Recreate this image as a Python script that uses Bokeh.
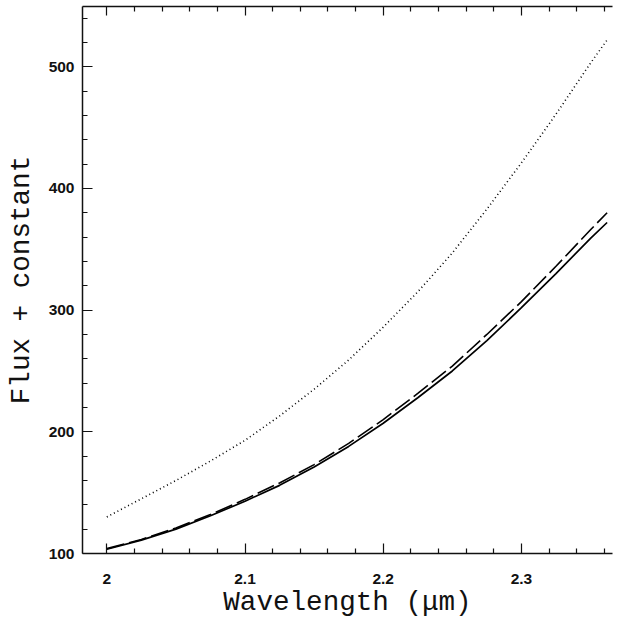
from bokeh.plotting import figure
from bokeh.models import LinearAxis, FixedTicker, Range1d
from bokeh.embed import file_html
from bokeh.resources import INLINE

# Data
wavelength = [2.0, 2.025, 2.05, 2.075, 2.1, 2.125, 2.15, 2.175, 2.2, 2.225, 2.25,
              2.275, 2.3, 2.325, 2.35, 2.362]
flux_solid = [103.5, 111, 120, 131, 143, 156, 171, 188, 207, 228, 250,
              275, 302, 330, 359, 372]
flux_dashed = [104, 111.5, 121, 132, 144.5, 158, 173, 190.5, 210, 231.5, 254,
               280, 307, 336, 366, 380]
flux_dotted = [130, 145, 160, 176, 193, 213, 235, 259, 286, 315, 347,
               383, 421, 461, 503, 522]

x_major = [2.0, 2.1, 2.2, 2.3]
x_minor = [2.02, 2.04, 2.06, 2.08, 2.12, 2.14, 2.16, 2.18, 2.22, 2.24, 2.26,
           2.28, 2.32, 2.34, 2.36]
y_major = [100, 200, 300, 400, 500]
y_minor = [120, 140, 160, 180, 220, 240, 260, 280, 320, 340, 360, 380,
           420, 440, 460, 480, 520, 540]

p = figure(frame_width=530, frame_height=547, output_backend="svg",
           toolbar_location=None,
           x_range=Range1d(1.9824, 2.3659), y_range=Range1d(100, 549.5),
           min_border_left=82, min_border_right=4, min_border_top=6,
           min_border_bottom=0)
p.outline_line_color = None
p.grid.visible = False
p.background_fill_color = "white"
p.border_fill_color = "white"

p.line(wavelength, flux_solid, line_color="black", line_width=1.7)
p.line(wavelength, flux_dashed, line_color="black", line_width=1.6, line_dash="18 5")
p.line(wavelength, flux_dotted, line_color="black", line_width=1.6, line_dash="1 3")

xa = p.xaxis[0]
ya = p.yaxis[0]
xa.ticker = FixedTicker(ticks=x_major, minor_ticks=x_minor)
ya.ticker = FixedTicker(ticks=y_major, minor_ticks=y_minor)
xa.major_label_overrides = {2.0: "2", 2.1: "2.1", 2.2: "2.2", 2.3: "2.3"}

for ax in (xa, ya):
    ax.major_tick_in = 10
    ax.major_tick_out = 0
    ax.minor_tick_in = 5
    ax.minor_tick_out = 0
    ax.axis_line_width = 1.5
    ax.axis_line_color = "#111111"
    ax.major_tick_line_width = 1.2
    ax.minor_tick_line_width = 1.2
    ax.major_tick_line_color = "#111111"
    ax.minor_tick_line_color = "#111111"
    ax.major_label_text_font = "Liberation Sans"
    ax.major_label_text_font_style = "bold"
    ax.major_label_text_font_size = "15.5px"
    ax.major_label_text_color = "#111111"
    ax.axis_label_text_font = "Liberation Mono"
    ax.axis_label_text_font_style = "normal"
    ax.axis_label_text_font_size = "27.6px"
    ax.axis_label_text_color = "#111111"

xa.axis_label = "Wavelength (\u03bcm)"
ya.axis_label = "Flux + constant"
xa.major_label_standoff = 20
xa.axis_label_standoff = 0
ya.major_label_standoff = 8
ya.axis_label_standoff = 9

top = LinearAxis(ticker=FixedTicker(ticks=x_major, minor_ticks=x_minor))
top.major_tick_in = 9
top.major_tick_out = 0
top.minor_tick_in = 5
top.minor_tick_out = 0
top.axis_line_width = 1.5
top.axis_line_color = "#111111"
top.major_tick_line_width = 1.2
top.minor_tick_line_width = 1.2
top.major_tick_line_color = "#111111"
top.minor_tick_line_color = "#111111"
top.major_label_text_font_size = "0px"
top.major_label_standoff = 0
p.add_layout(top, "above")

open("out.html", "w").write(file_html(p, INLINE))
